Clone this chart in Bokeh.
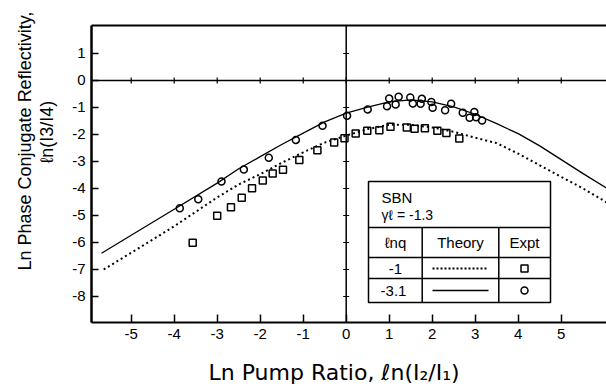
from bokeh.plotting import figure
from bokeh.models import (FixedTicker, LinearAxis, Span, Title, Range1d)
from bokeh.core.properties import value
from bokeh.embed import file_html
from bokeh.resources import INLINE

# ---------------- data ----------------
x_ticks = [-5, -4, -3, -2, -1, 0, 1, 2, 3, 4, 5]
x_tick_labels = ["-5", "-4", "-3", "-2", "-1", "0", "1", "2", "3", "4", "5"]
y_ticks = [1, 0, -1, -2, -3, -4, -5, -6, -7, -8]
y_tick_labels = ["1", "0", "-1", "-2", "-3", "-4", "-5", "-6", "-7", "-8"]

# theory, ln q = -3.1 (solid)
theory_solid_x = [-5.69, -5.0, -4.0, -3.0, -2.5, -2.0, -1.5, -1.0, -0.5, 0.0, 0.5, 1.0, 1.5,
                  2.0, 2.5, 3.0, 3.5, 4.0, 4.5, 5.0, 5.5, 6.05]
theory_solid_y = [-6.40, -5.73, -4.77, -3.80, -3.27, -2.82, -2.37, -1.95, -1.53, -1.21, -0.99,
                  -0.79, -0.72, -0.79, -0.98, -1.25, -1.60, -1.97, -2.42, -2.93, -3.44, -3.98]
# theory, ln q = -1 (dotted)
theory_dot_x = [-5.64, -5.0, -4.0, -3.0, -2.5, -2.0, -1.5, -1.0, -0.5, 0.0, 0.5, 1.0, 1.5,
                2.0, 2.5, 3.0, 3.5, 4.0, 4.5, 5.0, 5.5, 6.05]
theory_dot_y = [-7.00, -6.38, -5.40, -4.33, -3.85, -3.47, -3.05, -2.66, -2.30, -2.04, -1.80,
                -1.64, -1.64, -1.74, -1.90, -2.12, -2.32, -2.71, -3.14, -3.57, -3.99, -4.51]
# experiment, ln q = -1 (squares)
expt_sq_x = [-3.57, -3.00, -2.68, -2.43, -2.19, -1.94, -1.71, -1.47, -1.09, -0.67, -0.28, -0.04,
             0.22, 0.49, 0.77, 1.03, 1.41, 1.59, 1.83, 2.12, 2.33, 2.63]
expt_sq_y = [-6.01, -5.01, -4.69, -4.34, -3.99, -3.70, -3.44, -3.31, -2.94, -2.58, -2.30, -2.14,
             -1.96, -1.86, -1.84, -1.71, -1.74, -1.79, -1.77, -1.86, -1.94, -2.15]
# experiment, ln q = -3.1 (diamonds)
expt_di_x = [-3.87, -3.44, -2.90, -2.38, -1.80, -1.17, -0.55, 0.02, 0.50, 0.95, 1.00, 1.15, 1.22,
             1.49, 1.55, 1.73, 1.76, 1.98, 2.01, 2.30, 2.44, 2.71, 2.87, 2.98, 3.02, 3.16]
expt_di_y = [-4.73, -4.40, -3.74, -3.30, -2.86, -2.20, -1.68, -1.31, -1.07, -0.95, -0.67, -0.89,
             -0.60, -0.63, -0.85, -0.86, -0.68, -0.80, -1.01, -1.10, -0.86, -1.19, -1.38, -1.17,
             -1.36, -1.48]

# ---------------- layout ----------------
W, H = 606, 389
FL, FT, FR, FB = 91, 25, 606, 322   # frame edges in px
X0, X1 = -5.923, 6.053
Y0, Y1 = -8.963, 2.037

def dx(px):
    return X0 + (px - FL) / (FR - FL) * (X1 - X0)

def dy(py):
    return Y1 - (py - FT) / (FB - FT) * (Y1 - Y0)

FONT = "Liberation Sans"

p = figure(width=W, height=H, output_backend="svg", toolbar_location=None,
           x_range=Range1d(X0, X1), y_range=Range1d(Y0, Y1),
           x_axis_location=None, y_axis_location=None,
           min_border_left=FL, min_border_top=FT, min_border_right=W - FR,
           min_border_bottom=H - FB)
p.outline_line_color = None
p.xgrid.visible = False
p.ygrid.visible = False
p.background_fill_color = "white"
p.border_fill_color = "white"

xaxis = LinearAxis(ticker=FixedTicker(ticks=x_ticks),
                   major_label_overrides={t: l for t, l in zip(x_ticks, x_tick_labels)})
xaxis.axis_line_width = 2
xaxis.major_tick_in = 8
xaxis.major_tick_out = 0
xaxis.minor_tick_line_color = None
xaxis.major_tick_line_width = 1.5
xaxis.major_label_standoff = 6
xaxis.major_label_text_font = FONT
xaxis.major_label_text_font_size = "15px"
xaxis.major_label_text_color = "black"
xaxis.axis_label = " "
xaxis.axis_label_text_font_size = "1px"
xaxis.axis_label_standoff = 11
p.add_layout(xaxis, "below")

yaxis = LinearAxis(ticker=FixedTicker(ticks=y_ticks),
                   major_label_overrides={t: l for t, l in zip(y_ticks, y_tick_labels)})
yaxis.axis_line_width = 2.5
yaxis.major_tick_in = 7
yaxis.major_tick_out = 0
yaxis.minor_tick_line_color = None
yaxis.major_tick_line_width = 1.5
yaxis.major_label_standoff = 6
yaxis.major_label_text_font = FONT
yaxis.major_label_text_font_size = "15px"
yaxis.major_label_text_color = "black"
yaxis.axis_label = " "
yaxis.axis_label_text_font_size = "1px"
yaxis.axis_label_standoff = 9
p.add_layout(yaxis, "left")

top = LinearAxis(ticker=FixedTicker(ticks=[]))
top.axis_line_width = 2
top.major_tick_in = 0
top.major_tick_out = 0
top.minor_tick_line_color = None
top.major_label_text_font_size = "0px"
p.add_layout(top, "above")

# axis titles
xt = Title(text="Ln Pump Ratio, ℓn(I₂/I₁)", align="left", offset=117, standoff=2,
           text_font="DejaVu Sans", text_font_size="22px", text_font_style="normal",
           text_color="black")
p.add_layout(xt, "below")
yt2 = Title(text="ℓn(I3/I4)", align="left", offset=159, standoff=0,
            text_font=FONT, text_font_size="18px", text_font_style="normal",
            text_color="black")
p.add_layout(yt2, "left")
yt1 = Title(text="Ln Phase Conjugate Reflectivity,", align="left", offset=52, standoff=0,
            text_font=FONT, text_font_size="18px", text_font_style="normal",
            text_color="black")
p.add_layout(yt1, "left")

# zero lines with small crossing ticks
p.add_layout(Span(location=0, dimension="width", line_color="black", line_width=1.5))
p.add_layout(Span(location=0, dimension="height", line_color="black", line_width=1.5))
tx = 3 / (FB - FT) * (Y1 - Y0)
ty = 3 / (FR - FL) * (X1 - X0)
p.segment(x0=x_ticks, y0=[-tx] * len(x_ticks), x1=x_ticks, y1=[tx] * len(x_ticks),
          line_color="black", line_width=1.2)
p.segment(x0=[-ty] * len(y_ticks), y0=y_ticks, x1=[ty] * len(y_ticks), y1=y_ticks,
          line_color="black", line_width=1.2)

# theory curves
p.line(theory_solid_x, theory_solid_y, line_color="black", line_width=1.3)
p.line(theory_dot_x, theory_dot_y, line_color="black", line_width=2, line_dash="2 3")

# experiment
p.scatter(expt_sq_x, expt_sq_y, marker="square", size=7, fill_color=None,
          line_color="black", line_width=1.5)
p.scatter(expt_di_x, expt_di_y, marker="circle", size=7, fill_color=None,
          line_color="black", line_width=1.5)

# ---------------- legend table ----------------
L, R, T, B = 368, 550, 181, 302
c1, c2 = 421.7, 498.3
r0, r1, r2 = 227, 257, 278
p.quad(left=[dx(L)], right=[dx(R)], top=[dy(T)], bottom=[dy(B)],
       fill_color="white", line_color="black", line_width=1.5)
p.segment(x0=[dx(L), dx(L), dx(L)], y0=[dy(r0), dy(r1), dy(r2)],
          x1=[dx(R), dx(R), dx(R)], y1=[dy(r0), dy(r1), dy(r2)],
          line_color="black", line_width=1.5)
p.segment(x0=[dx(c1), dx(c2)], y0=[dy(r0), dy(r0)], x1=[dx(c1), dx(c2)], y1=[dy(B), dy(B)],
          line_color="black", line_width=1.5)

def txt(px, py, s, align="center", size="15px"):
    p.text(x=[dx(px)], y=[dy(py)], text=[s], text_align=align, text_baseline="middle",
           text_font=value(FONT), text_font_size=size, text_color="black")

txt(381, 197, "SBN", align="left")
txt(381, 214, "γℓ = -1.3", align="left", size="14px")
txt(395, 242, "ℓnq")
txt(460, 242, "Theory")
txt(524, 242, "Expt")
txt(395, 268, "-1")
txt(393, 290, "-3.1")
p.line([dx(432), dx(488)], [dy(268), dy(268)], line_color="black", line_width=2, line_dash="2 2")
p.line([dx(432), dx(488)], [dy(290), dy(290)], line_color="black", line_width=1.3)
p.scatter([dx(524)], [dy(268)], marker="square", size=7, fill_color=None,
          line_color="black", line_width=1.5)
p.scatter([dx(524)], [dy(290)], marker="circle", size=7, fill_color=None,
          line_color="black", line_width=1.5)

open("out.html", "w").write(file_html(p, INLINE))
